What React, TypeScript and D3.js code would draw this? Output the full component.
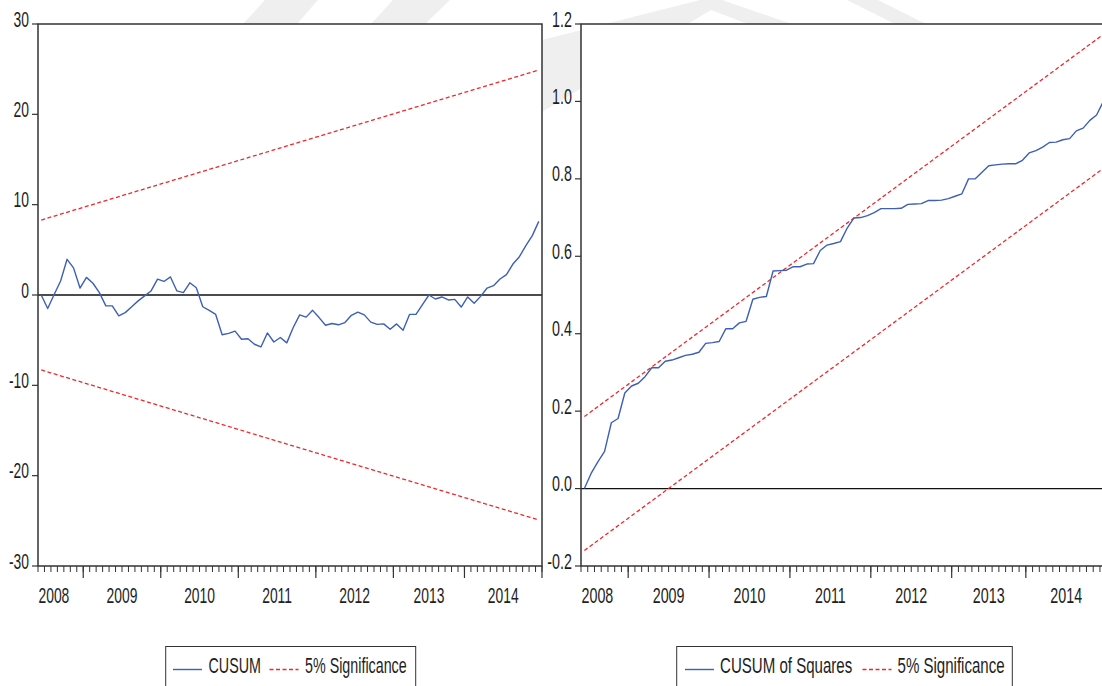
import React from 'react';
import * as d3 from 'd3';

// ---------------- data ----------------
const years = ['2008', '2009', '2010', '2011', '2012', '2013', '2014'];
// observation index where each year begins (ticks sit between observations)
const yearStartObs = [-0.5, 6.5, 18.5, 30.5, 42.5, 54.5, 65.5];
const lastObsEdge = 77.5;

const cusum = [
  0, -1.5, 0.05, 1.55, 3.95, 3.0, 0.77, 1.95, 1.3, 0.26,
  -1.2, -1.2, -2.3, -1.95, -1.3, -0.65, -0.1, 0.45, 1.75, 1.5,
  2.0, 0.45, 0.26, 1.35, 0.8, -1.3, -1.7, -2.15, -4.4, -4.25,
  -4.0, -4.9, -4.85, -5.45, -5.75, -4.2, -5.2, -4.7, -5.3, -3.6,
  -2.2, -2.45, -1.7, -2.5, -3.35, -3.15, -3.3, -3.05, -2.25, -1.9,
  -2.2, -3.0, -3.25, -3.2, -3.8, -3.2, -3.9, -2.15, -2.15, -1.07,
  0.0, -0.44, -0.22, -0.55, -0.48, -1.33, -0.22, -0.92, -0.15, 0.77,
  1.03, 1.77, 2.25, 3.43, 4.24, 5.46, 6.57, 8.15,
];

const cusumSq = [
  0, 0.039, 0.069, 0.096, 0.17, 0.181, 0.247, 0.265, 0.272, 0.289,
  0.312, 0.312, 0.329, 0.332, 0.338, 0.344, 0.347, 0.352, 0.375, 0.377,
  0.38, 0.413, 0.413, 0.428, 0.432, 0.489, 0.494, 0.496, 0.562, 0.563,
  0.564, 0.573, 0.573, 0.58, 0.581, 0.615, 0.629, 0.633, 0.638, 0.673,
  0.699, 0.7, 0.705, 0.713, 0.723, 0.723, 0.723, 0.724, 0.734, 0.735,
  0.736, 0.744, 0.744, 0.745, 0.749, 0.755, 0.761, 0.8, 0.8, 0.817,
  0.834, 0.836, 0.838, 0.839, 0.839, 0.848, 0.867, 0.873, 0.882, 0.894,
  0.895, 0.901, 0.904, 0.924, 0.931, 0.951, 0.965, 1.0,
];

const bandObs = [0, 77];
const cusumUpper = [8.3, 24.9];
const cusumLower = [-8.3, -24.9];
const cusumSqUpper = [0.186, 1.173];
const cusumSqLower = [-0.16, 0.827];

const cusumTicks = [-30, -20, -10, 0, 10, 20, 30];
const cusumSqTicks = [-0.2, 0, 0.2, 0.4, 0.6, 0.8, 1.0, 1.2];

const leftLegend = ['CUSUM', '5% Significance'];
const rightLegend = ['CUSUM of Squares', '5% Significance'];

// ---------------- style ----------------
const FONT = '"Liberation Sans", Arial, sans-serif';
const FS = 22;
const BLUE = '#3d5fb6';
const RED = '#f0282d';
const AXIS = '#333333';
const TEXT = '#1e1e1e';
const TOP = 24;
const BOTTOM = 566;

const loc = d3.formatLocale({ decimal: '.', thousands: ',', grouping: [3], currency: ['', ''], minus: '-' });

function STxt({ x, y, sx, anchor, children }: any) {
  return (
    <text
      transform={`translate(${x},${y}) scale(${sx},1)`}
      textAnchor={anchor}
      fontFamily={FONT}
      fontSize={FS}
      fill={TEXT}
    >
      {children}
    </text>
  );
}

function Panel({ id, x0, x1, yDomain, yTicks, fmt, series, upper, lower, sx }: any) {
  const x = d3.scaleLinear().domain([yearStartObs[0], lastObsEdge]).range([x0, x1]);
  const y = d3.scaleLinear().domain(yDomain).range([BOTTOM, TOP]);
  const line = d3.line<number>().x((_, i) => x(i)).y((d) => y(d));
  const band = d3.line<number>().x((_, i) => x(bandObs[i])).y((d) => y(d));
  const minor = d3.range(yearStartObs[0], lastObsEdge + 0.001, 1);
  const major = [...yearStartObs.slice(1), lastObsEdge];

  return (
    <g>
      <defs>
        <clipPath id={id}>
          <rect x={x0} y={TOP} width={x1 - x0} height={BOTTOM - TOP} />
        </clipPath>
      </defs>
      <rect x={x0} y={TOP} width={x1 - x0} height={BOTTOM - TOP} fill="#fff" />
      {/* zero line */}
      <line x1={x0} x2={x1} y1={y(0)} y2={y(0)} stroke="#111" strokeWidth={1.3} />
      <g clipPath={`url(#${id})`}>
        <path d={band(upper) || ''} fill="none" stroke={RED} strokeWidth={1.3} strokeDasharray="4,2.5" />
        <path d={band(lower) || ''} fill="none" stroke={RED} strokeWidth={1.3} strokeDasharray="4,2.5" />
        <path d={line(series) || ''} fill="none" stroke={BLUE} strokeWidth={1.4} strokeLinejoin="round" />
      </g>
      {/* frame */}
      <rect x={x0} y={TOP} width={x1 - x0} height={BOTTOM - TOP} fill="none" stroke={AXIS} strokeWidth={1.5} />
      {/* y ticks */}
      {yTicks.map((t: number) => (
        <g key={'y' + t}>
          <line x1={x0 - 6} x2={x0} y1={y(t)} y2={y(t)} stroke={AXIS} strokeWidth={1.2} />
          <STxt x={x0 - 9} y={y(t) + 2.5} sx={sx} anchor="end">
            {fmt(t)}
          </STxt>
        </g>
      ))}
      {/* x ticks */}
      {minor.map((m: number) => (
        <line key={'m' + m} x1={x(m)} x2={x(m)} y1={BOTTOM} y2={BOTTOM + 6} stroke={AXIS} strokeWidth={1} />
      ))}
      {major.map((m: number) => (
        <line key={'M' + m} x1={x(m)} x2={x(m)} y1={BOTTOM} y2={BOTTOM + 12} stroke={AXIS} strokeWidth={1.2} />
      ))}
      {years.map((yr, k) => {
        const s = yearStartObs[k];
        const e = k + 1 < yearStartObs.length ? yearStartObs[k + 1] : lastObsEdge;
        if (k === 0) {
          return (
            <STxt key={yr} x={x(s) + 0.5} y={602.5} sx={sx} anchor="start">
              {yr}
            </STxt>
          );
        }
        return (
          <STxt key={yr} x={(x(s) + x(e)) / 2} y={602.5} sx={sx} anchor="middle">
            {yr}
          </STxt>
        );
      })}
    </g>
  );
}

function Legend({ bx, bw, labels, sx, lineX, textX, dashX, text2X }: any) {
  const ly = 669.5;
  return (
    <g>
      <rect x={bx} y={646.5} width={bw} height={60} fill="#fff" stroke={AXIS} strokeWidth={1} />
      <line x1={lineX} x2={lineX + 29} y1={ly} y2={ly} stroke={BLUE} strokeWidth={1.4} />
      <STxt x={textX} y={673} sx={sx} anchor="start">
        {labels[0]}
      </STxt>
      <line x1={dashX} x2={dashX + 29} y1={ly} y2={ly} stroke={RED} strokeWidth={1.3} strokeDasharray="4,2.5" />
      <STxt x={text2X} y={673} sx={sx} anchor="start">
        {labels[1]}
      </STxt>
    </g>
  );
}

export default function App() {
  const f0 = loc.format('d');
  const f1 = loc.format('.1f');
  return (
    <div style={{ position: 'absolute', left: 0, top: 0, width: 1102, height: 686, overflow: 'hidden', background: '#fff' }}>
      <svg width={1102} height={686} style={{ display: 'block' }}>
        <rect x={0} y={0} width={1102} height={686} fill="#fff" />
        {/* faint watermark */}
        <g fill="#efefef">
          <polygon points="243,24 265,0 318,0 297,24" />
          <polygon points="371,24 393,0 450,0 425,24" />
          <polygon points="542,40 700,0 722,0 792,24 748,24 711,10 542,112" />
          <polygon points="847,0 878,0 926,24 895,24" />
        </g>
        <Panel
          id="clipL"
          x0={38}
          x1={542}
          yDomain={[-30, 30]}
          yTicks={cusumTicks}
          fmt={f0}
          series={cusum}
          upper={cusumUpper}
          lower={cusumLower}
          sx={0.63}
        />
        <Panel
          id="clipR"
          x0={581}
          x1={1106.7}
          yDomain={[-0.2, 1.2]}
          yTicks={cusumSqTicks}
          fmt={f1}
          series={cusumSq}
          upper={cusumSqUpper}
          lower={cusumSqLower}
          sx={0.65}
        />
        <Legend bx={165.7} bw={250} labels={leftLegend} sx={0.65} lineX={173} textX={208.5} dashX={269.5} text2X={305} />
        <Legend bx={676.7} bw={335.6} labels={rightLegend} sx={0.685} lineX={685} textX={720} dashX={862.5} text2X={897.5} />
      </svg>
    </div>
  );
}
